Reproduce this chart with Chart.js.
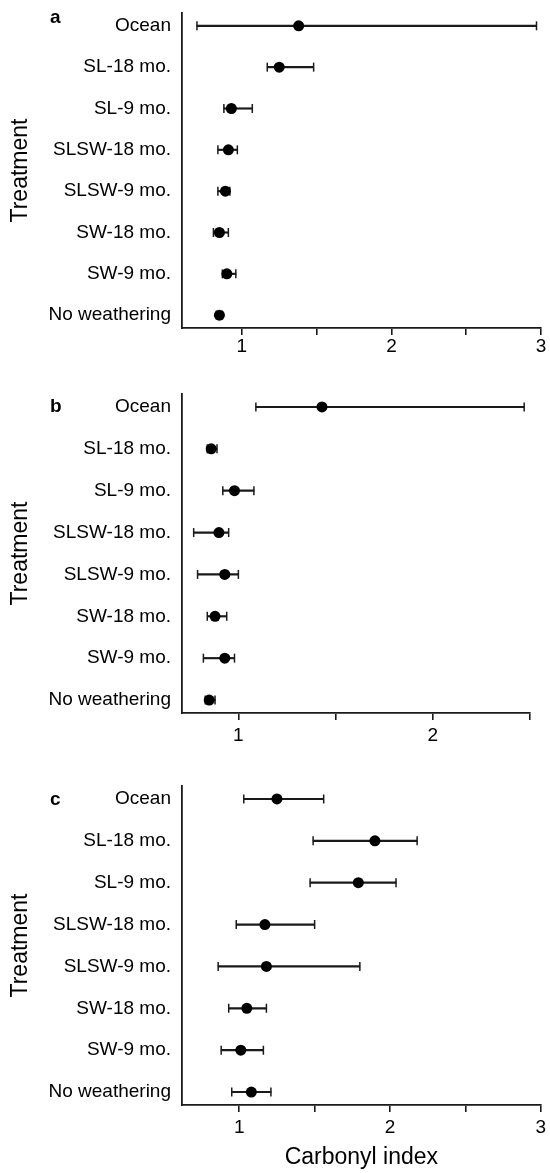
<!DOCTYPE html>
<html>
<head>
<meta charset="utf-8">
<script src="https://cdn.jsdelivr.net/npm/chart.js@4.4.1/dist/chart.umd.min.js"></script>
<style>
    html, body { margin: 0; padding: 0; background: #fff; }
    #wrap { position: relative; width: 550px; height: 1173px; }
    #wrap canvas { position: absolute; left: 0; }
</style>
</head>
<body>
<div id="wrap">
    <canvas id="panel-a" width="550" height="360" style="top:0px"></canvas>
    <canvas id="panel-b" width="550" height="400" style="top:360px"></canvas>
    <canvas id="panel-c" width="550" height="413" style="top:760px"></canvas>
</div>
<script>
// Treatments, top to bottom
const treatments = ['Ocean', 'SL-18 mo.', 'SL-9 mo.', 'SLSW-18 mo.', 'SLSW-9 mo.', 'SW-18 mo.', 'SW-9 mo.', 'No weathering'];

// Panel a
const aMean = [1.38, 1.25, 0.93, 0.91, 0.89, 0.85, 0.90, 0.85];
const aLow  = [0.70, 1.17, 0.88, 0.84, 0.84, 0.81, 0.87, 0.83];
const aHigh = [2.97, 1.48, 1.07, 0.97, 0.92, 0.91, 0.96, 0.87];

// Panel b
const bMean = [1.43, 0.86, 0.98, 0.90, 0.93, 0.88, 0.93, 0.85];
const bLow  = [1.09, 0.84, 0.92, 0.77, 0.79, 0.84, 0.82, 0.83];
const bHigh = [2.47, 0.89, 1.08, 0.95, 1.00, 0.94, 0.98, 0.88];

// Panel c
const cMean = [1.25, 1.90, 1.79, 1.17, 1.18, 1.05, 1.01, 1.08];
const cLow  = [1.03, 1.49, 1.47, 0.98, 0.86, 0.93, 0.88, 0.95];
const cHigh = [1.56, 2.18, 2.04, 1.50, 1.80, 1.18, 1.16, 1.21];

// x axis ticks (labels only on whole numbers)
const ticksA = [1, 1.5, 2, 2.5, 3];
const ticksB = [1, 1.5, 2, 2.5];
const ticksC = [1, 1.5, 2, 2.5, 3];

const FONT = '"Liberation Sans", Arial, Helvetica, sans-serif';
const INK = '#1a1a1a';

// draws the bold panel letter (a, b, c)
const panelLetter = {
    id: 'panelLetter',
    afterDraw(chart, args, opts) {
        const ctx = chart.ctx;
        ctx.save();
        ctx.font = 'bold 19px ' + FONT;
        ctx.fillStyle = '#000';
        ctx.textBaseline = 'alphabetic';
        ctx.fillText(opts.text, opts.x, opts.y);
        ctx.restore();
    }
};

function makePanel(id, letter, mean, low, high, xMin, xMax, xTicks, layout) {
    const ctx = document.getElementById(id).getContext('2d');
    return new Chart(ctx, {
        type: 'scatter',
        data: {
            datasets: [
                {
                    // mean
                    data: mean.map((m, i) => ({ x: m, y: i })),
                    pointRadius: 5.5,
                    pointHoverRadius: 5.5,
                    pointBackgroundColor: '#000',
                    pointBorderWidth: 0,
                    order: 0
                },
                {
                    // error bar caps
                    data: low.map((l, i) => ({ x: l, y: i })).concat(high.map((h, i) => ({ x: h, y: i }))),
                    pointStyle: 'line',
                    pointRotation: 90,
                    pointRadius: 4.5,
                    pointHoverRadius: 4.5,
                    pointBorderColor: INK,
                    pointBorderWidth: 1.5,
                    order: 1
                },
                {
                    // error bar line
                    type: 'bar',
                    indexAxis: 'y',
                    data: low.map((l, i) => ({ y: i, x: [l, high[i]] })),
                    barThickness: 1.5,
                    backgroundColor: INK,
                    borderWidth: 0,
                    order: 2
                }
            ]
        },
        options: {
            responsive: false,
            animation: false,
            events: [],
            layout: { padding: { top: layout.top, right: layout.right, left: 0, bottom: 0 } },
            plugins: {
                legend: { display: false },
                tooltip: { enabled: false },
                panelLetter: { text: letter, x: 50, y: layout.letterY }
            },
            scales: {
                x: {
                    type: 'linear',
                    min: xMin,
                    max: xMax,
                    offset: false,
                    afterBuildTicks: s => { s.ticks = xTicks.map(v => ({ value: v })); },
                    afterFit: s => { s.height = layout.xHeight; s.paddingLeft = 0; },
                    ticks: {
                        callback: v => Number.isInteger(v) ? String(v) : '',
                        color: '#000',
                        font: { family: FONT, size: 19 },
                        padding: layout.tickPad,
                        maxRotation: 0,
                        autoSkip: false
                    },
                    grid: { drawOnChartArea: false, drawTicks: true, tickLength: 7, color: INK, lineWidth: 1.6, offset: false },
                    border: { display: true, color: INK, width: 1.8 },
                    title: {
                        display: !!layout.xTitle,
                        text: layout.xTitle || '',
                        color: '#000',
                        font: { family: FONT, size: 23 },
                        padding: { top: 0, bottom: 2 }
                    }
                },
                y: {
                    type: 'linear',
                    reverse: true,
                    offset: false,
                    min: -0.31,
                    max: 7.31,
                    afterBuildTicks: s => { s.ticks = treatments.map((t, i) => ({ value: i })); },
                    afterFit: s => { s.width = 182; s.paddingTop = 0; s.paddingBottom = 0; },
                    ticks: {
                        callback: v => treatments[v],
                        color: '#000',
                        font: { family: FONT, size: 19 },
                        padding: 11,
                        autoSkip: false
                    },
                    grid: { display: false, drawTicks: false, tickLength: 0, offset: false },
                    border: { display: true, color: INK, width: 1.8 },
                    title: {
                        display: true,
                        text: 'Treatment',
                        color: '#000',
                        font: { family: FONT, size: 23 },
                        padding: { top: 7, bottom: 0 }
                    }
                }
            }
        },
        plugins: [panelLetter]
    });
}

makePanel('panel-a', 'a', aMean, aLow, aHigh, 0.6, 3.0, ticksA, { top: 13, right: 9, xHeight: 32, tickPad: 0, letterY: 23 });
makePanel('panel-b', 'b', bMean, bLow, bHigh, 0.71, 2.5, ticksB, { top: 34, right: 20, xHeight: 47, tickPad: 4, letterY: 52 });
makePanel('panel-c', 'c', cMean, cLow, cHigh, 0.62, 3.0, ticksC, { top: 26, right: 9, xHeight: 68, tickPad: 4, letterY: 45, xTitle: 'Carbonyl index' });
</script>
</body>
</html>
